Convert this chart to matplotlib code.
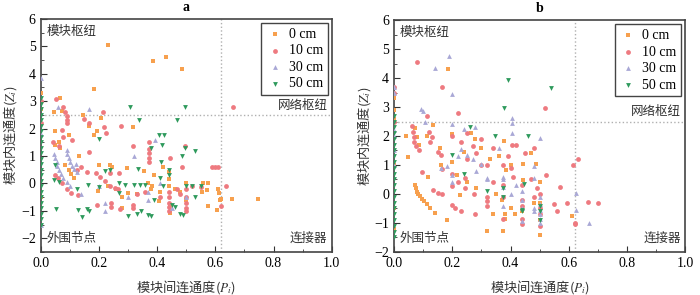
import matplotlib
matplotlib.use('Agg')
import matplotlib.pyplot as plt
from matplotlib.ticker import MultipleLocator

plt.rcParams['font.family'] = ['Liberation Serif', 'Noto Sans CJK SC']
plt.rcParams['mathtext.fontset'] = 'stix'

# series labels / legend
labels = ['0 cm', '10 cm', '30 cm', '50 cm']
colors = ['#F7A04E', '#EE7A80', '#A9A8D6', '#2E9A5C']
markers = ['s', 'o', '^', 'v']

# ---- panel a ----
a0_p = [0, 0, 0, 0.23, 0.385, 0.43, 0.486, 0.182, 0.066, 0.046, 0.075, 0.144, 0.208, 0.167, 0.318, 0.194,
        0.184, 0.051, 0.098, 0.062, 0.05, 0.065, 0.133, 0.199, 0.24, 0.245, 0.295, 0.355, 0.084, 0.096,
        0.105, 0.115, 0.198, 0.23, 0.26, 0.28, 0.3, 0.33, 0.37, 0.38, 0.41, 0.44, 0.44, 0.44, 0.444, 0.444,
        0.46, 0.48, 0.5, 0.5, 0.558, 0.555, 0.57, 0.575, 0.609, 0.612, 0.615, 0.62, 0.656, 0.747, 0.575,
        0.606, 0.28, 0.39, 0.42, 0.383, 0.407]
a0_z = [3.3, 2.7, -0.5, 5.05, 4.48, 4.6, 4.19, 3.46, 3.1, 2.6, 2.65, 2.5, 2.38, 2.11, 2.05, 1.91,
        1.75, 1.91, 1.75, 1.5, 1.4, 1.3, 1.0, 0.67, 0.67, 0.6, 0.57, 0.45, 0.67, 0.5,
        0.35, 0.2, -0.29, -0.1, -0.2, -0.5, -0.35, -0.4, 0.0, -0.2, -0.3, 0.4, 0.15, -0.1, -0.78, -1.08,
        -0.2, -0.3, 0.0, -0.6, 0.0, -0.3, -0.25, -0.81, -0.2, -0.35, -0.6, -0.58, -0.57, -0.57, 0.0,
        -0.98, -0.9, 0.3, 0.6, -0.1, -0.65]

a1_p = [0, 0, 0.053, 0.659, 0.078, 0.085, 0.089, 0.089, 0.089, 0.15, 0.167, 0.215, 0.217, 0.224, 0.276,
        0.072, 0.077, 0.108, 0.041, 0.063, 0.318, 0.371, 0.497, 0.167, 0.371, 0.371, 0.371, 0.371, 0.446,
        0.487, 0.59, 0.6, 0.608, 0.638, 0.621, 0.049, 0.06, 0.075, 0.09, 0.105, 0.13, 0.124, 0.19, 0.204,
        0.22, 0.24, 0.255, 0.266, 0.238, 0.269, 0.192, 0.241, 0.241, 0.272, 0.318, 0.318, 0.41, 0.44,
        0.44, 0.44, 0.44, 0.44, 0.47, 0.48, 0.5, 0.5, 0.5, 0.5, 0.5, 0.52, 0.55, 0.36, 0.33, 0.14, 0.16]
a1_z = [3.0, 2.2, 3.09, 2.8, 2.78, 2.6, 2.45, 2.3, 2.2, 2.35, 2.2, 2.6, 2.05, 1.82, 2.08,
        1.95, 1.7, 1.6, 1.5, 1.35, 1.35, 1.51, 1.35, 1.13, 1.27, 1.1, 0.94, 0.77, 0.94,
        0.61, 0.61, 0.61, 0.61, -0.11, -0.83, 0.31, 0.19, 0.0, -0.2, -0.35, -0.44, 0.49, 0.37, 0.25,
        0.07, -0.08, -0.17, -0.2, 0.37, 0.37, -0.78, -0.87, -0.71, -0.95, -0.8, -0.9, -0.5, -0.3,
        -0.5, -0.7, -0.85, -1.0, -0.2, -0.4, -0.2, -0.5, -0.7, -0.9, -1.0, -0.1, -0.15, -0.3, -0.4, 0.6, 0.4]

a2_p = [0.047, 0.051, 0.055, 0.058, 0.063, 0.07, 0.078, 0.089, 0.1,
        0.089, 0.092, 0.097, 0.102, 0.108, 0.115, 0.124,
        0.059, 0.167, 0.393, 0, 0, 0, 0.12, 0.2, 0.22, 0.22, 0.32, 0.37, 0.37, 0.5, 0.14, 0.41, 0.3, 0.45]
a2_z = [1.09, 0.91, 0.79, 0.65, 0.49, 0.33, 0.19, 0.04, -0.08,
        1.21, 1.09, 0.94, 0.79, 0.65, 0.52, 0.43,
        2.8, 2.7, 1.6, 3.85, 1.8, -1.5, 0.7, -0.1, -0.7, -1.0, 1.0, -0.3, -0.6, -0.5, -0.4, 0.0, -0.5, -0.9]

a3_p = [0] * 24 + [0.306, 0.497, 0.339, 0.47, 0.199, 0.407, 0.424, 0.416, 0.378, 0.053, 0.129, 0.141, 0.16,
                   0.165, 0.051, 0.047, 0.064, 0.124, 0.163, 0.2, 0.24, 0.22, 0.27, 0.29, 0.32, 0.34, 0.36,
                   0.333, 0.415, 0.44, 0.44, 0.487, 0.53, 0.497, 0.33, 0.345, 0.37, 0.38, 0.48, 0.49, 0.45,
                   0.46, 0.53, 0.5, 0.52, 0.55, 0.3, 0.42, 0.41, 0.27, 0.39]
a3_z = [-1.5, -1.3, -1.1, -0.9, -0.7, -0.5, -0.3, -0.1, 0.1, 0.3, 0.5, 0.7, 0.9, 1.1, 1.3, 1.5, 1.7, 1.9,
        2.1, 2.3, 2.5, 2.7, 2.9, 3.1] + [2.8, 2.8, 2.33, 2.33, 1.63, 1.78, 1.78, 1.39, 1.3, -0.93, -0.96,
                                          -1.23, -0.95, -1.0, 0.67, 0.13, 0.05, -0.2, -0.05, -0.15, 0.5,
                                          0.45, 0.0, -0.05, -0.05, -0.05, -0.05, 0.52, 0.77, 0.5, 0.3, 1.0,
                                          1.17, 1.3, -1.1, -1.0, -1.15, -1.2, -1.1, -1.15, -0.8, -0.85, -0.5,
                                          -0.1, -0.1, -0.1, -1.2, -0.1, 0.2, -0.35, -0.6]

# ---- panel b ----
b0_p = [0, 0, 0, 0, 0, 0, 0.184, 0.041, 0.072, 0.079, 0.085, 0.133, 0.113, 0.198, 0.158, 0.278, 0.264,
        0.376, 0.049, 0.072, 0.075, 0.08, 0.083, 0.09, 0.097, 0.104, 0.112, 0.125, 0.141, 0.181, 0.117,
        0.215, 0.226, 0.28, 0.318, 0.34, 0.35, 0.374, 0.4, 0.415, 0.442, 0.443, 0.44, 0.488, 0.5, 0.5,
        0.5, 0.5, 0.383, 0.16, 0.2, 0.24, 0.3, 0.33, 0.36, 0.4, 0.611, 0.47, 0.48, 0.38, 0.38, 0.37, 0.25]
b0_z = [3.3, 2.9, 2.6, 1.0, -0.5, -1.2, 4.3, 2.0, 2.29, 1.95, 1.7, 2.37, 2.0, 2.06, 1.6, 1.88, 2.1,
        1.83, 1.27, 0.32, 0.2, 0.08, 0.01, -0.08, -0.17, -0.25, -0.34, -0.5, -0.67, -0.9, 0.6,
        0.67, -0.05, 0.2, -1.28, -0.7, 0.0, -1.28, -0.5, -0.7, 1.05, 0.47, -0.6, 1.05, 0.4, -0.3,
        -0.9, -1.42, 0.84, 1.0, 1.1, 1.45, 1.6, 1.2, 1.3, 1.0, -0.75, 1.4, -0.3, -0.7, -0.85, -0.2, 0.4]

b1_p = [0, 0, 0, 0.078, 0.164, 0.219, 0.112, 0.518, 0.06, 0.065, 0.068, 0.07, 0.075, 0.085, 0.12, 0.13,
        0.125, 0.2, 0.23, 0.25, 0.27, 0.3, 0.34, 0.404, 0.419, 0.48, 0.095, 0.135, 0.15, 0.165, 0.198,
        0.21, 0.23, 0.278, 0.15, 0.163, 0.2, 0.2, 0.22, 0.245, 0.245, 0.275, 0.3, 0.318, 0.318, 0.318,
        0.318, 0.34, 0.375, 0.375, 0.375, 0.375, 0.39, 0.4, 0.41, 0.44, 0.44, 0.44, 0.44, 0.44, 0.45,
        0.47, 0.48, 0.49, 0.5, 0.5, 0.5, 0.5, 0.521, 0.55, 0.56, 0.57, 0.593, 0.613, 0.63, 0.62, 0.622,
        0.665, 0.7, 0.25, 0.28, 0.16]
b1_z = [3.7, 3.5, 2.5, 4.57, 3.7, 2.81, 2.7, 2.98, 2.35, 2.15, 1.95, 1.8, 1.65, 1.5, 2.15, 1.95,
        1.8, 2.0, 1.8, 2.1, 1.65, 1.9, 1.6, 1.69, 1.69, 1.6, 0.77, 0.14, 0.05, 0.0, -0.38,
        -0.5, -0.6, -0.7, 1.45, 0.85, 0.7, 0.26, 0.4, 0.55, 0.22, 0.0, 1.0, 1.0, -0.1, -0.25,
        -0.4, 0.4, 1.0, 0.3, -0.1, -0.85, 1.3, 0.9, 0.6, 0.3, -0.2, -0.4, -0.85, -1.05, 1.4,
        0.5, -0.1, 0.2, 0.0, -0.5, -0.7, -1.1, 0.67, -0.35, -0.6, 0.25, -0.3, 1.0, 1.2, -1.0, -1.05,
        -0.28, -0.32, 1.2, 1.4, 1.35]

b2_p = [0, 0, 0, 0, 0, 0, 0.187, 0.141, 0.198, 0.093, 0.1, 0.2, 0.105, 0.278, 0.405, 0.405, 0.405, 0.5,
        0.23, 0.24, 0.2, 0.16, 0.18, 0.22, 0.25, 0.27, 0.3, 0.318, 0.318, 0.375, 0.375, 0.375, 0.375, 0.4,
        0.44, 0.44, 0.44, 0.44, 0.48, 0.48, 0.48, 0.48, 0.5, 0.5, 0.5, 0.5, 0.5, 0.5, 0.625, 0.625, 0.668,
        0.36, 0.42, 0.2, 0.28]
b2_z = [3.7, 3.5, 2.2, 2.0, 1.5, 1.0, 4.76, 4.34, 3.45, 2.93, 2.85, 2.4, 2.5, 2.3, 2.63, 2.46, 2.12, 1.92,
        1.55, 2.25, 0.4, 0.9, 0.95, 1.3, 1.35, 1.2, 1.05, 0.5, 0.55, 0.6, 0.5, 0.25, -0.4, 0.0,
        0.1, -0.2, -0.5, -0.95, 0.95, 0.55, -0.5, -0.6, -0.1, -0.35, -0.55, -0.7, -0.85, -1.0, 0.03, -0.55, -1.0,
        1.6, 0.3, 0.65, 0.8]

b3_p = [0] * 22 + [0.391, 0.538, 0.379, 0.261, 0.345, 0.459, 0.198, 0.24, 0.318, 0.375, 0.375, 0.445,
                   0.44, 0.5, 0.5, 0.44, 0.5]
b3_z = [-1.5, -1.3, -1.1, -0.9, -0.7, -0.5, -0.3, -0.1, 0.1, 0.3, 0.5, 0.7, 0.9, 1.1, 1.3, 1.5, 1.7, 1.9,
        2.1, 2.3, 2.5, 2.7] + [3.94, 3.66, 2.96, 2.31, 2.0, 2.0, 1.34, 0.7, 0.1, 0.2, -0.1, 0.35,
                               -0.6, -0.6, -0.9, -0.55, -0.4]

panels = [
    ('a', [(a0_p, a0_z), (a1_p, a1_z), (a2_p, a2_z), (a3_p, a3_z)], (-2.5, 6)),
    ('b', [(b0_p, b0_z), (b1_p, b1_z), (b2_p, b2_z), (b3_p, b3_z)], (-2, 6)),
]

fig = plt.figure(figsize=(7, 2.95), dpi=100)
rects = [[0.058, 0.146, 0.416, 0.79], [0.563, 0.146, 0.416, 0.786]]

for (name, series, ylim), rect in zip(panels, rects):
    ax = fig.add_axes(rect)
    for (p, z), lab, c, m in zip(series, labels, colors, markers):
        ax.scatter(p, z, s=12, marker=m, color=c, label=lab, linewidths=0, zorder=3)
    ax.axvline(0.62, color='#b0b0b0', ls=':', lw=1, zorder=1)
    ax.axhline(2.5, color='#b0b0b0', ls=':', lw=1, zorder=1)
    ax.set_xlim(0, 1)
    ax.set_ylim(*ylim)
    ax.xaxis.set_minor_locator(MultipleLocator(0.1))
    ax.yaxis.set_minor_locator(MultipleLocator(0.5))
    ax.tick_params(which='both', direction='in', labelsize=10, color='#333333')
    ax.tick_params(which='major', length=4)
    ax.tick_params(which='minor', length=2)
    ax.set_xticks([0, 0.2, 0.4, 0.6, 0.8, 1.0])
    ax.set_xticklabels(['0.0', '0.2', '0.4', '0.6', '0.8', '1.0'])
    yt = list(range(-2, 7))
    ax.set_yticks(yt)
    ax.set_yticklabels([str(v).replace('-', '\u2212') for v in yt])
    for sp in ax.spines.values():
        sp.set_color('#444444')
        sp.set_linewidth(1.2)
    ax.set_title(name, fontsize=10, fontweight='bold', pad=6)
    ax.set_xlabel('模块间连通度($P_i$)', fontsize=9.5, color='#333333', labelpad=6,
                  fontfamily='Noto Sans CJK SC')
    ax.set_ylabel('模块内连通度($Z_i$)', fontsize=9.5, color='#333333', labelpad=1,
                  fontfamily='Noto Sans CJK SC')
    tk = dict(fontsize=9, color='#333333')
    ax.text(0.02, 0.97, '模块枢纽', transform=ax.transAxes, ha='left', va='top', **tk)
    ax.text(0.985, 2.62, '网络枢纽', transform=ax.get_yaxis_transform(), ha='right', va='bottom', **tk)
    ax.text(0.02, 0.03, '外围节点', transform=ax.transAxes, ha='left', va='bottom', **tk)
    ax.text(0.985, 0.03, '连接器', transform=ax.transAxes, ha='right', va='bottom', **tk)
    leg = ax.legend(loc='upper right', fontsize=10, fancybox=False, edgecolor='#444444',
                    framealpha=1, handletextpad=0.4, borderpad=0.35, labelspacing=0.25,
                    handlelength=1.2, borderaxespad=0.3, scatterpoints=1)
    leg.get_frame().set_linewidth(1.0)

fig.savefig('out.png', dpi=100)
